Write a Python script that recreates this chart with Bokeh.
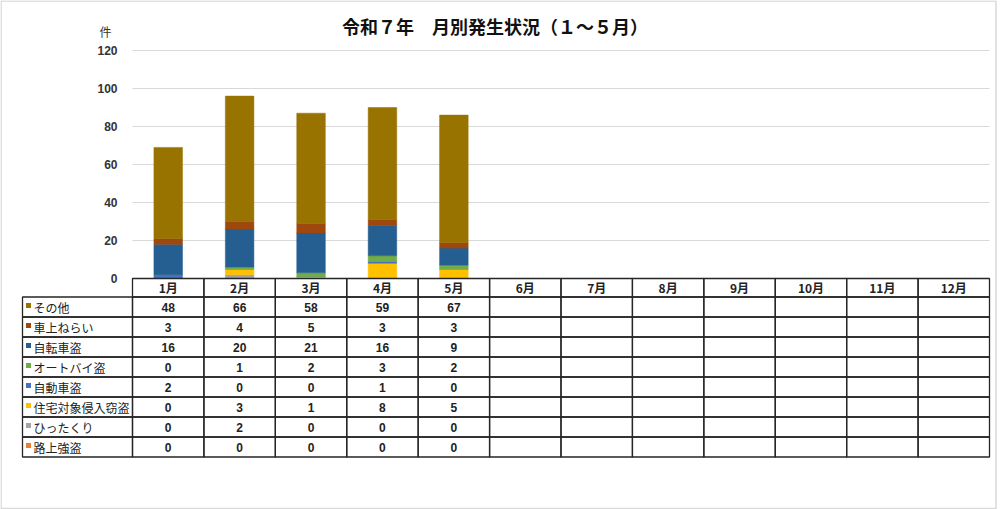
from bokeh.plotting import figure
from bokeh.models import Range1d, FixedTicker, ColumnDataSource
from bokeh.core.properties import value
from bokeh.embed import file_html
from bokeh.resources import INLINE

# ---------------- data ----------------
title_text = "令和７年　月別発生状況（１～５月）"
unit_text = "件"
months = ["1月", "2月", "3月", "4月", "5月", "6月", "7月", "8月", "9月", "10月", "11月", "12月"]
categories = ["その他", "車上ねらい", "自転車盗", "オートバイ盗", "自動車盗", "住宅対象侵入窃盗", "ひったくり", "路上強盗"]
sonota = [48, 66, 58, 59, 67]
shajo_nerai = [3, 4, 5, 3, 3]
jitensha = [16, 20, 21, 16, 9]
autobai = [0, 1, 2, 3, 2]
jidosha = [2, 0, 0, 1, 0]
jutaku = [0, 3, 1, 8, 5]
hittakuri = [0, 2, 0, 0, 0]
rojo_goto = [0, 0, 0, 0, 0]
series_values = [sonota, shajo_nerai, jitensha, autobai, jidosha, jutaku, hittakuri, rojo_goto]
colors = ["#997300", "#9E480E", "#255E91", "#70AD47", "#4472C4", "#FFC000", "#A5A5A5", "#ED7D31"]
y_ticks = [0, 20, 40, 60, 80, 100, 120]

# ---------------- layout (canvas pixels) ----------------
W, H = 997, 509
COL0, COL12 = 132, 989
COLW = (COL12 - COL0) / 12.0
Y0, YTOP = 278, 50
PXU = (Y0 - YTOP) / 120.0
HDR_B = 296.5
ROWH = 20
LAB_L = 22
TICK_LABEL_RIGHT = 117

NUM_FONT = "Liberation Sans"
JP_FONT = "Noto Sans CJK JP"
LINE = "#262626"


def cx(px):
    return (px - COL0) / COLW


def cy(py):
    return (Y0 - py) / PXU


p = figure(width=W, height=H,
           x_range=Range1d(cx(0), cx(W)), y_range=Range1d(cy(H), cy(0)),
           min_border_left=0, min_border_right=0, min_border_top=0, min_border_bottom=0,
           x_axis_location=None, output_backend="svg", toolbar_location=None)
p.outline_line_color = None
p.xgrid.grid_line_color = None

ax = p.yaxis[0]
ax.ticker = FixedTicker(ticks=y_ticks)
ax.axis_line_color = None
ax.major_tick_line_color = None
ax.minor_tick_line_color = None
ax.major_tick_out = 0
ax.major_tick_in = 0
ax.major_label_standoff = -TICK_LABEL_RIGHT
ax.major_label_text_font = NUM_FONT
ax.major_label_text_font_size = "12px"
ax.major_label_text_font_style = "bold"
ax.major_label_text_color = "#333333"

grid = p.ygrid[0]
grid.grid_line_color = "#D9D9D9"
grid.grid_line_width = 1
if "cross_bounds" in grid.properties():
    grid.cross_bounds = (0, 12)
else:
    grid.grid_line_color = None
    p.segment(x0=0, x1=12, y0=y_ticks, y1=y_ticks, line_color="#D9D9D9", line_width=1)

# outer light frame of the picture
p.quad(left=cx(0.5), right=cx(995.5), top=cy(0.5), bottom=cy(508),
       fill_color=None, line_color="#D9D9D9", line_width=1.5)

# title and unit
p.text(x=[cx(494.5)], y=[cy(25)], text=[title_text], text_align="center",
       text_baseline="middle", text_font=value(JP_FONT), text_font_size="18px",
       text_font_style="bold", text_color="#111111")
p.text(x=[cx(105)], y=[cy(31)], text=[unit_text], text_align="center",
       text_baseline="middle", text_font=value(JP_FONT), text_font_size="12px",
       text_color="#333333")

# stacked bars
n_obs = len(sonota)
src_data = {"x": [i + 0.5 for i in range(n_obs)]}
for name, vals in zip(categories, series_values):
    src_data[name] = vals
src = ColumnDataSource(src_data)
p.vbar_stack(list(reversed(categories)), x="x", width=0.4, source=src,
             color=list(reversed(colors)), line_width=0.5)

# header row of the data table
hdr_bottom = cy(HDR_B)
p.quad(left=[i for i in range(12)], right=[i + 1 for i in range(12)],
       top=0, bottom=hdr_bottom, fill_color=None, line_color=LINE, line_width=1.3)
p.text(x=[i + 0.5 for i in range(12)], y=hdr_bottom / 2, text=months,
       text_align="center", text_baseline="middle",
       text_font=value(JP_FONT), text_font_size="12px", text_font_style="bold",
       text_color="#222222")

# body of the table
nrows = len(categories)
row_top = [cy(HDR_B + k * ROWH) for k in range(nrows)]
row_bot = [cy(HDR_B + (k + 1) * ROWH) for k in range(nrows)]
row_mid = [(a + b) / 2 for a, b in zip(row_top, row_bot)]

p.quad(left=cx(LAB_L), right=0, top=row_top, bottom=row_bot,
       fill_color=None, line_color=LINE, line_width=1.3)
cl, cr, ct, cb = [], [], [], []
for k in range(nrows):
    for i in range(12):
        cl.append(i); cr.append(i + 1); ct.append(row_top[k]); cb.append(row_bot[k])
p.quad(left=cl, right=cr, top=ct, bottom=cb,
       fill_color=None, line_color=LINE, line_width=1.3)

p.scatter(x=cx(28), y=[m + 1.5 / PXU for m in row_mid], marker="square",
          size=5, color=colors, line_width=0)
p.text(x=cx(33), y=row_mid, text=categories,
       text_align="left", text_baseline="middle",
       text_font=value(JP_FONT), text_font_size="12px", text_color="#222222")

vx, vy, vt = [], [], []
for k, vals in enumerate(series_values):
    for i, v in enumerate(vals):
        vx.append(i + 0.5); vy.append(row_mid[k]); vt.append(str(v))
p.text(x=vx, y=vy, text=vt, text_align="center", text_baseline="middle",
       text_font=value(NUM_FONT), text_font_size="12px", text_font_style="bold",
       text_color="#222222")

open("out.html", "w").write(file_html(p, INLINE))
